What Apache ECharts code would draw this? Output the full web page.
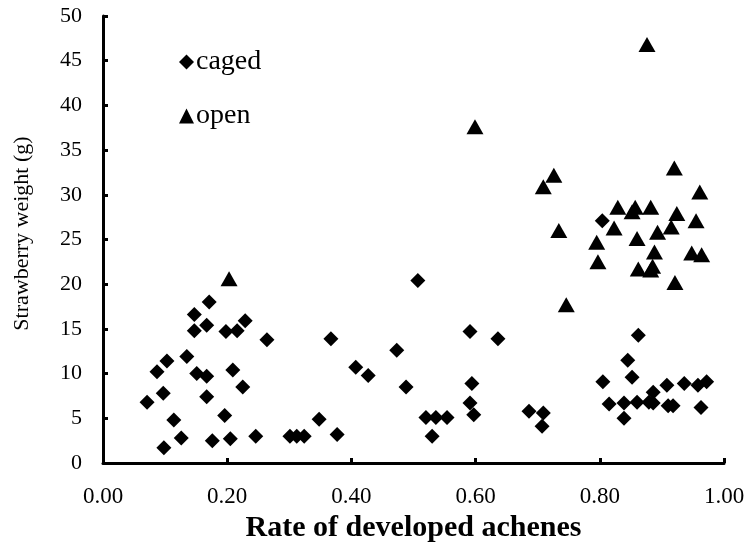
<!DOCTYPE html>
<html lang="en">
<head>
    <meta charset="UTF-8">
    <title>Strawberry weight</title>
    <script src="https://cdn.jsdelivr.net/npm/echarts@6/dist/echarts.min.js"></script>
</head>
<body style="margin:0">
    <div id="main" style="width: 745px;height:548px;"></div>
    <script type="text/javascript">
        // caged plants: rate of developed achenes / weight (g)
        var cagedX = [0.071, 0.087, 0.097, 0.103, 0.098, 0.114, 0.126, 0.135, 0.147, 0.147, 0.151, 0.167, 0.171, 0.167, 0.167, 0.176,
            0.196, 0.198, 0.205, 0.209, 0.216, 0.229, 0.225, 0.246, 0.264, 0.301, 0.312, 0.324, 0.348, 0.367, 0.377,
            0.407, 0.427, 0.473, 0.488, 0.507, 0.520, 0.530, 0.536, 0.554, 0.591, 0.594, 0.591, 0.597, 0.636,
            0.686, 0.709, 0.707, 0.804, 0.805, 0.815, 0.839, 0.839, 0.845, 0.852, 0.862, 0.860, 0.879, 0.886, 0.886,
            0.908, 0.910, 0.918, 0.936, 0.958, 0.972, 0.963];
        var cagedY = [6.8, 10.2, 7.8, 11.4, 1.7, 4.8, 2.8, 11.9, 16.6, 14.8, 10.0, 15.4, 18.0, 9.7, 7.4, 2.5,
            5.3, 14.7, 2.7, 10.4, 14.8, 15.9, 8.5, 3.0, 13.8, 3.0, 3.0, 3.0, 4.9, 13.9, 3.2,
            10.7, 9.8, 12.6, 8.5, 20.4, 5.1, 3.0, 5.1, 5.1, 14.7, 8.9, 6.7, 5.4, 13.9,
            5.8, 5.6, 4.1, 27.1, 9.1, 6.6, 6.7, 5.0, 11.5, 9.6, 14.3, 6.8, 6.8, 7.9, 6.7,
            8.7, 6.4, 6.4, 8.9, 8.7, 9.1, 6.2];
        // open plants
        var openX = [0.203, 0.599, 0.709, 0.726, 0.734, 0.746, 0.795, 0.797, 0.823, 0.829, 0.852, 0.857, 0.860, 0.862,
            0.876, 0.882, 0.882, 0.885, 0.888, 0.893, 0.915, 0.920, 0.921, 0.924, 0.948, 0.955, 0.961, 0.964];
        var openY = [20.6, 37.6, 30.9, 32.2, 26.0, 17.7, 24.7, 22.5, 26.3, 28.6, 28.1, 28.6, 25.1, 21.7,
            46.8, 28.6, 21.6, 22.0, 23.6, 25.8, 26.4, 33.0, 20.2, 27.9, 23.5, 27.1, 30.3, 23.3];

        function pairs(xs, ys) {
            let out = [];
            for (let i = 0; i < xs.length; i++) out.push([xs[i], ys[i]]);
            return out;
        }

        var myChart = echarts.init(document.getElementById('main'));
        var font = '"Liberation Serif", "Times New Roman", serif';
        let option = {
            animation: false,
            grid: { left: 103, right: 21, top: 16, bottom: 85, outerBoundsMode: 'none', containLabel: false },
            legend: {
                orient: 'vertical',
                left: 174,
                top: 43,
                itemGap: 26,
                itemWidth: 15,
                itemHeight: 15,
                textStyle: { fontFamily: font, fontSize: 28, color: '#000', padding: [0, 0, 0, -3] },
                data: [
                    { name: 'caged', icon: 'diamond' },
                    { name: 'open', icon: 'triangle' }
                ]
            },
            xAxis: {
                type: 'value',
                min: 0, max: 1, interval: 0.2,
                name: 'Rate of developed achenes',
                nameLocation: 'middle',
                nameGap: 49,
                nameTextStyle: { fontFamily: font, fontSize: 30, fontWeight: 'bold', color: '#000' },
                splitLine: { show: false },
                axisLine: { lineStyle: { color: '#000', width: 3 } },
                axisTick: { inside: true, length: 5, lineStyle: { color: '#000', width: 3 } },
                axisLabel: {
                    fontFamily: font, fontSize: 23, color: '#000', margin: 22,
                    formatter: function (v) { return v.toFixed(2); }
                }
            },
            yAxis: {
                type: 'value',
                min: 0, max: 50, interval: 5,
                name: 'Strawberry weight (g)',
                nameLocation: 'middle',
                nameGap: 70,
                nameTextStyle: { fontFamily: font, fontSize: 22, color: '#000', padding: [0, 0, 0, 12] },
                splitLine: { show: false },
                axisLine: { lineStyle: { color: '#000', width: 3 } },
                axisTick: { inside: true, length: 5, lineStyle: { color: '#000', width: 3 } },
                axisLabel: { fontFamily: font, fontSize: 22, color: '#000', margin: 21 }
            },
            series: [{
                name: 'caged',
                type: 'scatter',
                symbol: 'diamond',
                symbolSize: 15,
                itemStyle: { color: '#000', opacity: 1 },
                data: pairs(cagedX, cagedY)
            }, {
                name: 'open',
                type: 'scatter',
                symbol: 'triangle',
                symbolSize: [17, 15],
                itemStyle: { color: '#000', opacity: 1 },
                data: pairs(openX, openY)
            }]
        };
        myChart.setOption(option);
    </script>
</body>
</html>
